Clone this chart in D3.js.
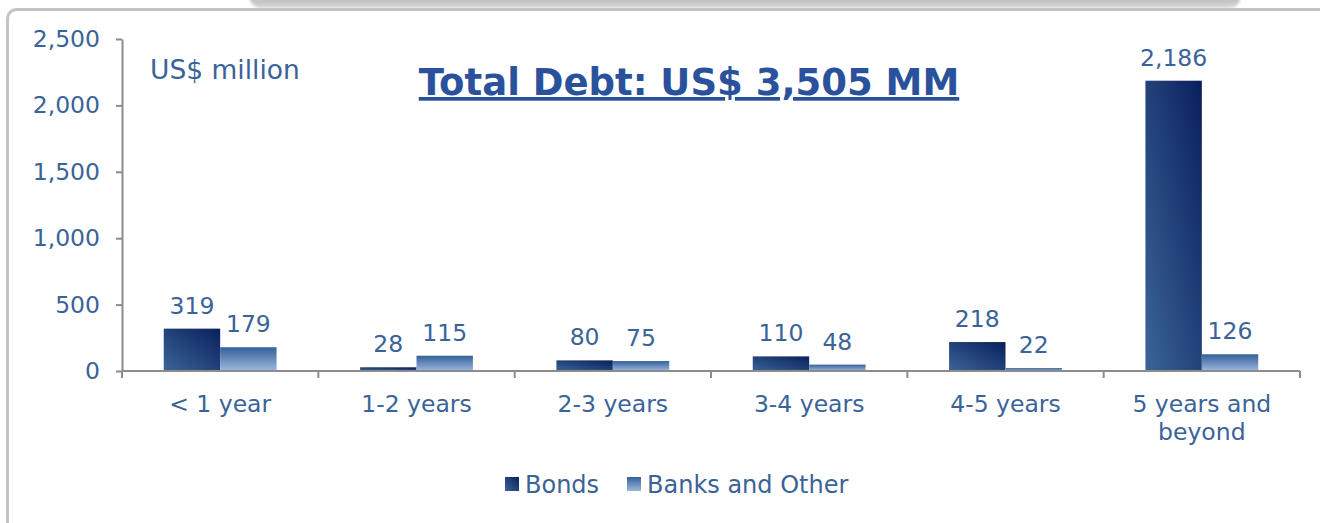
<!DOCTYPE html>
<html>
<head>
<meta charset="utf-8">
<script src="https://cdn.jsdelivr.net/npm/d3@7"></script>
<style>
  body { margin: 0; background: #fff; }
  svg { display: block; font-family: "DejaVu Sans", Verdana, sans-serif; }
</style>
</head>
<body>
<svg id="chart" width="1320" height="523"></svg>
<script>
// Data
const categories = ['< 1 year', '1-2 years', '2-3 years', '3-4 years', '4-5 years', '5 years and|beyond'];
const seriesNames = ['Bonds', 'Banks and Other'];
const bonds = [319, 28, 80, 110, 218, 2186];
const banks = [179, 115, 75, 48, 22, 126];
const yTicks = [0, 500, 1000, 1500, 2000, 2500];

const textColor = '#3a6399';
const axisColor = '#8c8c8c';

const svg = d3.select('#chart');
const defs = svg.append('defs');

// Gradients for the bars
const gBonds = defs.append('linearGradient').attr('id', 'gradBonds')
    .attr('x1', 0).attr('y1', 1).attr('x2', 1).attr('y2', 0);
gBonds.append('stop').attr('offset', '0%').attr('stop-color', '#3a6598');
gBonds.append('stop').attr('offset', '100%').attr('stop-color', '#0a1f5c');

const gBanks = defs.append('linearGradient').attr('id', 'gradBanks')
    .attr('x1', 0).attr('y1', 0).attr('x2', 0).attr('y2', 1);
gBanks.append('stop').attr('offset', '0%').attr('stop-color', '#34609a');
gBanks.append('stop').attr('offset', '100%').attr('stop-color', '#9db8de');

const gShadow = defs.append('linearGradient').attr('id', 'gradShadow')
    .attr('x1', 0).attr('y1', 0).attr('x2', 0).attr('y2', 1);
gShadow.append('stop').attr('offset', '0%').attr('stop-color', '#8a8a8a');
gShadow.append('stop').attr('offset', '100%').attr('stop-color', '#d8d8d8');

defs.append('filter').attr('id', 'blur')
    .append('feGaussianBlur').attr('stdDeviation', 1.5);

// Shadow of the box above and the frame
svg.append('rect')
    .attr('x', 250).attr('y', -20).attr('width', 990).attr('height', 28)
    .attr('rx', 10)
    .attr('fill', 'url(#gradShadow)')
    .attr('filter', 'url(#blur)');

svg.append('rect')
    .attr('x', 7.5).attr('y', 9.5).attr('width', 1330).attr('height', 530)
    .attr('rx', 9)
    .attr('fill', 'none')
    .attr('stroke', '#c4c4c4')
    .attr('stroke-width', 3);

// Scales
const margin = { left: 122, right: 1300, top: 39, bottom: 371 };

const x = d3.scaleBand()
    .domain(d3.range(categories.length))
    .range([margin.left, margin.right])
    .paddingInner(0).paddingOuter(0);

const xSub = d3.scaleBand()
    .domain(seriesNames)
    .range([0, x.bandwidth()])
    .paddingInner(0)
    .paddingOuter(0.74);

const y = d3.scaleLinear()
    .domain([0, 2500])
    .range([margin.bottom, margin.top]);

// Y axis
const yAxis = svg.append('g')
    .attr('transform', `translate(${margin.left},0)`)
    .call(d3.axisLeft(y).tickValues(yTicks).tickSize(6).tickSizeOuter(0)
        .tickFormat(d3.format(',')));
yAxis.select('.domain').attr('stroke', axisColor).attr('stroke-width', 2);
yAxis.selectAll('.tick line').attr('stroke', axisColor).attr('stroke-width', 2);
yAxis.selectAll('.tick text')
    .attr('x', -22)
    .attr('fill', textColor)
    .style('font-size', '23.5px')
    .style('font-family', '"DejaVu Sans", Verdana, sans-serif');

// Bars
const series = [bonds, banks];
const grads = ['url(#gradBonds)', 'url(#gradBanks)'];

const groups = svg.append('g').selectAll('g')
    .data(categories)
    .join('g')
    .attr('transform', (d, i) => `translate(${x(i)},0)`);

seriesNames.forEach((name, s) => {
    groups.append('rect')
        .attr('x', xSub(name))
        .attr('y', (d, i) => y(series[s][i]))
        .attr('width', xSub.bandwidth())
        .attr('height', (d, i) => y(0) - y(series[s][i]))
        .attr('fill', grads[s]);

    groups.append('text')
        .attr('x', xSub(name) + xSub.bandwidth() / 2)
        .attr('y', (d, i) => y(series[s][i]) - 15)
        .attr('text-anchor', 'middle')
        .attr('fill', textColor)
        .style('font-size', '23.5px')
        .text((d, i) => d3.format(',')(series[s][i]));
});

// X axis
const xAxis = svg.append('g')
    .attr('transform', `translate(0,${margin.bottom})`);
xAxis.append('line')
    .attr('x1', margin.left).attr('x2', margin.right)
    .attr('stroke', axisColor).attr('stroke-width', 2);
xAxis.selectAll('.xtick')
    .data(d3.range(categories.length + 1))
    .join('line')
    .attr('class', 'xtick')
    .attr('x1', i => i < categories.length ? x(i) : margin.right)
    .attr('x2', i => i < categories.length ? x(i) : margin.right)
    .attr('y1', 0).attr('y2', 7)
    .attr('stroke', axisColor).attr('stroke-width', 2);

const xLabels = xAxis.selectAll('.xlabel')
    .data(categories)
    .join('text')
    .attr('class', 'xlabel')
    .attr('text-anchor', 'middle')
    .attr('fill', textColor)
    .style('font-size', '23.5px');
xLabels.each(function(d, i) {
    const lines = d.split('|');
    d3.select(this).selectAll('tspan')
        .data(lines)
        .join('tspan')
        .attr('x', x(i) + x.bandwidth() / 2)
        .attr('y', (l, k) => 41 + k * 28)
        .text(l => l);
});

// Unit label
svg.append('text')
    .attr('x', 150).attr('y', 79)
    .attr('fill', textColor)
    .style('font-size', '26.5px')
    .text('US$ million');

// Title
svg.append('text')
    .attr('x', 689).attr('y', 95)
    .attr('text-anchor', 'middle')
    .attr('fill', '#2a529c')
    .style('font-size', '37px')
    .style('font-weight', 'bold')
    .style('text-decoration', 'underline')
    .text('Total Debt: US$ 3,505 MM');

// Legend
const legend = svg.append('g').attr('transform', 'translate(505,477)');
const legendX = [0, 122];
seriesNames.forEach((name, s) => {
    const item = legend.append('g').attr('transform', `translate(${legendX[s]},0)`);
    item.append('rect')
        .attr('width', 14).attr('height', 14)
        .attr('fill', grads[s]);
    item.append('text')
        .attr('x', 20).attr('y', 16)
        .attr('fill', textColor)
        .style('font-size', '24px')
        .text(name);
});
</script>
</body>
</html>
